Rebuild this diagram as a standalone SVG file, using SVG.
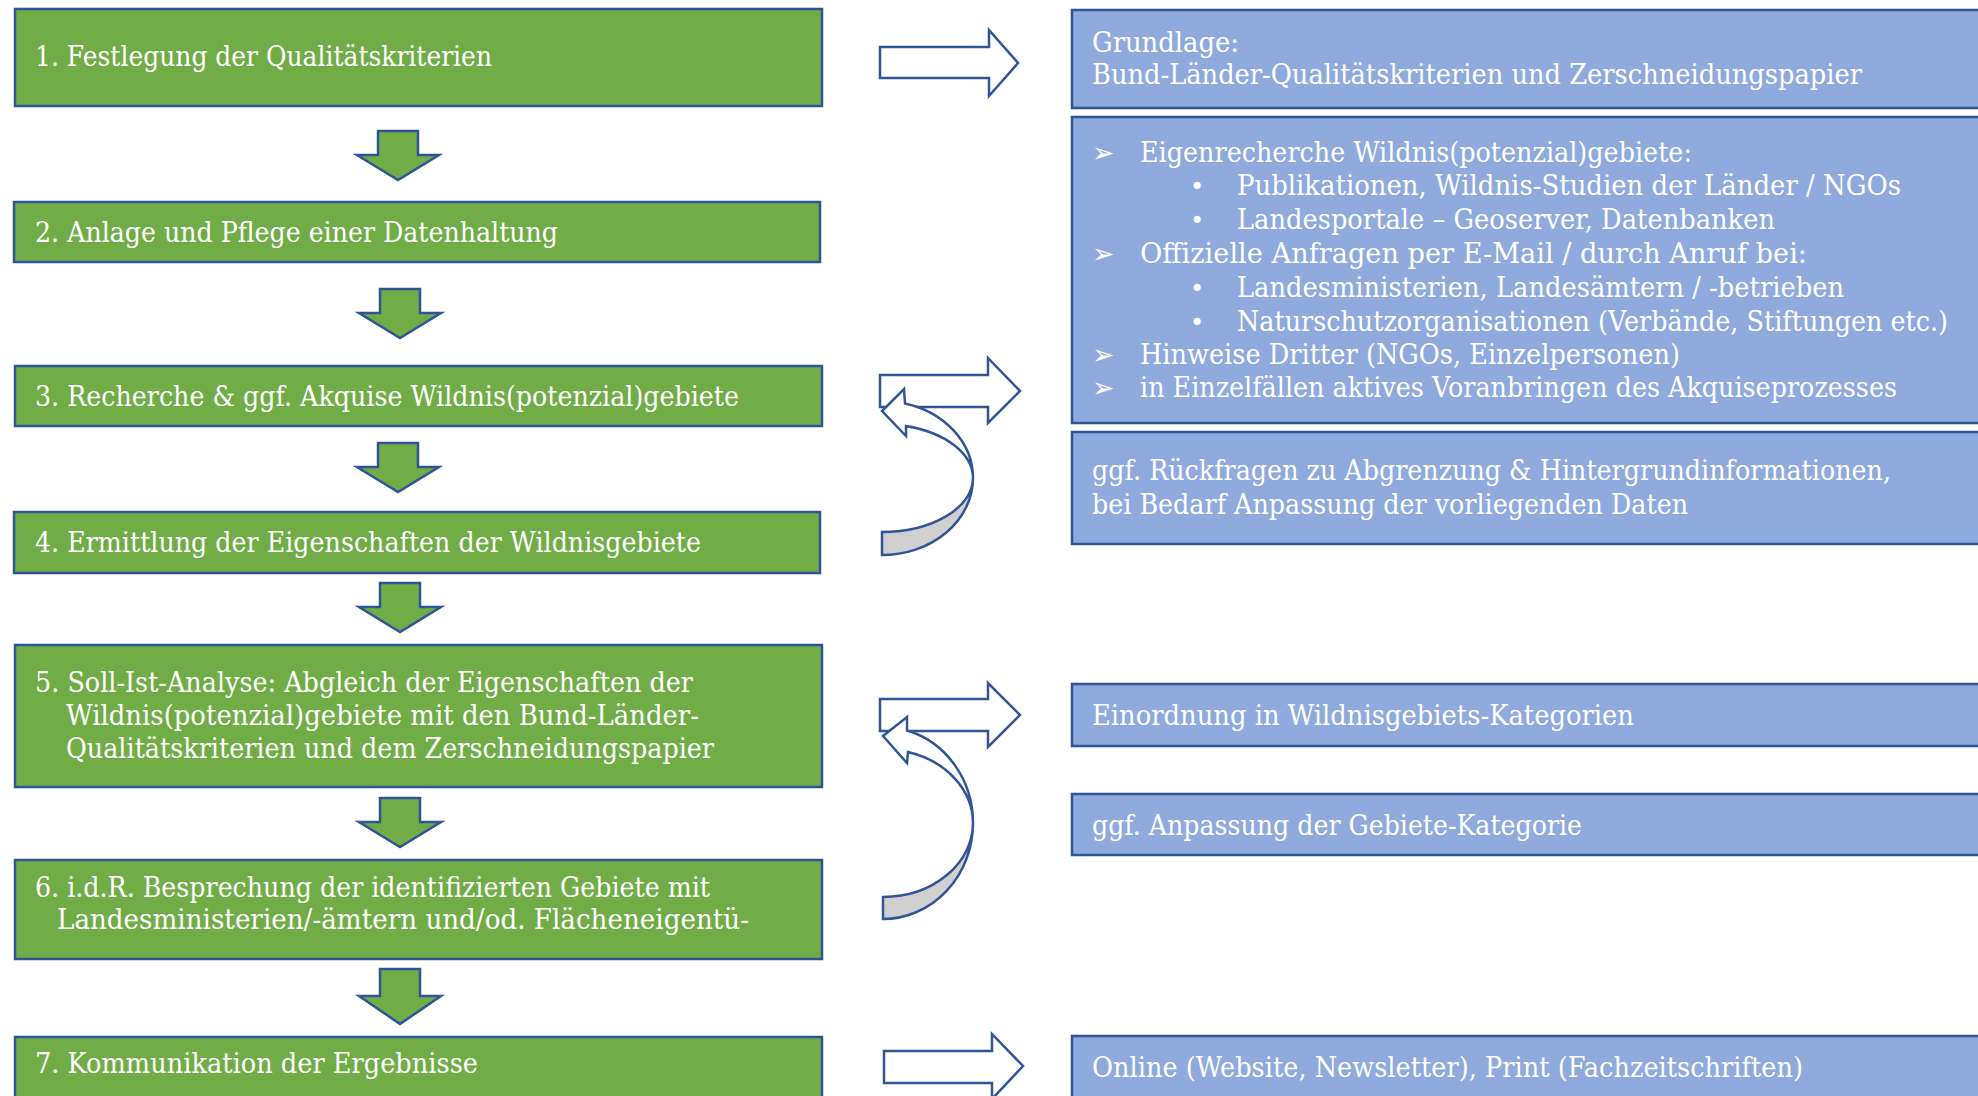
<svg xmlns="http://www.w3.org/2000/svg" width="1978" height="1096" viewBox="0 0 1978 1096">
<style>
.g{fill:#70AD47;stroke:#2F5597;stroke-width:2.5}
.b{fill:#8FAADC;stroke:#2F5597;stroke-width:2.5}
.t{font-family:"DejaVu Serif","Liberation Serif",serif;font-size:27px;fill:#FFFFFF}
.bl{font-family:"DejaVu Sans",sans-serif;font-size:27px;fill:#FFFFFF}
.bd{font-family:"DejaVu Sans",sans-serif;font-size:24px;fill:#FFFFFF}
.da{fill:#70AD47;stroke:#2F5597;stroke-width:2.5;stroke-linejoin:miter}
.ra{fill:#FFFFFF;stroke:#2F5597;stroke-width:2.5;stroke-linejoin:miter}
.cb{fill:#D0D0D0;stroke:#2F5597;stroke-width:2.5}
</style>
<defs>
<path id="down" d="M -20,0 H 20 V 24 H 41 L 0,49 L -41,24 H -20 Z"/>
</defs>

<g id="connectors">
<use href="#down" class="da" x="398" y="131"/>
<use href="#down" class="da" x="400" y="289"/>
<use href="#down" class="da" x="398" y="443"/>
<use href="#down" class="da" x="400" y="583"/>
<use href="#down" class="da" x="400" y="798"/>
<path class="da" d="M 380,969 H 420 V 996 H 441 L 400,1024 L 359,996 H 380 Z"/>
<path class="ra" d="M 880,47 H 989 V 30 L 1018,63 L 989,96 V 78 H 880 Z"/>
<path class="ra" d="M 880,375 H 988 V 358 L 1020,391 L 988,423 V 407 H 880 Z"/>
<path class="ra" d="M 880,699 H 988 V 683 L 1020,715 L 988,747 V 731 H 880 Z"/>
<path class="ra" d="M 884,1051 H 992 V 1034 L 1023,1066 L 992,1099 V 1083 H 884 Z"/>
<path class="cb" d="M 882,532 A 91,54 0 0 0 973,478 A 91,77 0 0 1 882,555 Z"/>
<path class="ra" d="M 906,426 L 906,436 L 882,411 L 904,389 L 905,403.5 A 91,77 0 0 1 973,478 A 91,54 0 0 0 906,426 Z"/>
<path class="cb" d="M 883,897 A 90,74 0 0 0 973,823 A 90,96 0 0 1 883,919 Z"/>
<path class="ra" d="M 908,752 L 907,763 L 883,736 L 907,717 L 907,730.5 A 90,96 0 0 1 973,823 A 90,74 0 0 0 908,752 Z"/>
</g>

<g id="step1">
<rect class="g" x="15" y="9" width="807" height="97"/>
<text class="t" x="35" y="66" textLength="457" lengthAdjust="spacingAndGlyphs">1. Festlegung der Qualitätskriterien</text>
</g>
<g id="step2">
<rect class="g" x="14" y="202" width="806" height="60"/>
<text class="t" x="35" y="242" textLength="523" lengthAdjust="spacingAndGlyphs">2. Anlage und Pflege einer Datenhaltung</text>
</g>
<g id="step3">
<rect class="g" x="15" y="366" width="807" height="60"/>
<text class="t" x="35" y="406" textLength="704" lengthAdjust="spacingAndGlyphs">3. Recherche &amp; ggf. Akquise Wildnis(potenzial)gebiete</text>
</g>
<g id="step4">
<rect class="g" x="14" y="512" width="806" height="61"/>
<text class="t" x="35" y="552" textLength="666" lengthAdjust="spacingAndGlyphs">4. Ermittlung der Eigenschaften der Wildnisgebiete</text>
</g>
<g id="step5">
<rect class="g" x="15" y="645" width="807" height="142"/>
<text class="t" x="35" y="692" textLength="658" lengthAdjust="spacingAndGlyphs">5. Soll-Ist-Analyse: Abgleich der Eigenschaften der</text>
<text class="t" x="66" y="725" textLength="633" lengthAdjust="spacingAndGlyphs">Wildnis(potenzial)gebiete mit den Bund-Länder-</text>
<text class="t" x="66" y="758" textLength="648" lengthAdjust="spacingAndGlyphs">Qualitätskriterien und dem Zerschneidungspapier</text>
</g>
<g id="step6">
<rect class="g" x="15" y="860" width="807" height="99"/>
<text class="t" x="35" y="897" textLength="675" lengthAdjust="spacingAndGlyphs">6. i.d.R. Besprechung der identifizierten Gebiete mit</text>
<text class="t" x="57" y="929" textLength="692" lengthAdjust="spacingAndGlyphs">Landesministerien/-ämtern und/od. Flächeneigentü-</text>
</g>
<g id="step7">
<rect class="g" x="15" y="1037" width="807" height="80"/>
<text class="t" x="35" y="1073" textLength="443" lengthAdjust="spacingAndGlyphs">7. Kommunikation der Ergebnisse</text>
</g>

<g id="info1">
<rect class="b" x="1072" y="10" width="920" height="98"/>
<text class="t" x="1092" y="52" textLength="147" lengthAdjust="spacingAndGlyphs">Grundlage:</text>
<text class="t" x="1092" y="84" textLength="770" lengthAdjust="spacingAndGlyphs">Bund-Länder-Qualitätskriterien und Zerschneidungspapier</text>
</g>
<g id="info3">
<rect class="b" x="1072" y="117" width="920" height="306"/>
<text class="bl" x="1092" y="162">➢</text>
<text class="t" x="1140" y="162" textLength="552" lengthAdjust="spacingAndGlyphs">Eigenrecherche Wildnis(potenzial)gebiete:</text>
<text class="bd" x="1190" y="195">•</text>
<text class="t" x="1237" y="195" textLength="664" lengthAdjust="spacingAndGlyphs">Publikationen, Wildnis-Studien der Länder / NGOs</text>
<text class="bd" x="1190" y="229">•</text>
<text class="t" x="1237" y="229" textLength="538" lengthAdjust="spacingAndGlyphs">Landesportale – Geoserver, Datenbanken</text>
<text class="bl" x="1092" y="263">➢</text>
<text class="t" x="1140" y="263" textLength="667" lengthAdjust="spacingAndGlyphs">Offizielle Anfragen per E-Mail / durch Anruf bei:</text>
<text class="bd" x="1190" y="297">•</text>
<text class="t" x="1237" y="297" textLength="607" lengthAdjust="spacingAndGlyphs">Landesministerien, Landesämtern / -betrieben</text>
<text class="bd" x="1190" y="331">•</text>
<text class="t" x="1237" y="331" textLength="711" lengthAdjust="spacingAndGlyphs">Naturschutzorganisationen (Verbände, Stiftungen etc.)</text>
<text class="bl" x="1092" y="364">➢</text>
<text class="t" x="1140" y="364" textLength="540" lengthAdjust="spacingAndGlyphs">Hinweise Dritter (NGOs, Einzelpersonen)</text>
<text class="bl" x="1092" y="397">➢</text>
<text class="t" x="1140" y="397" textLength="757" lengthAdjust="spacingAndGlyphs">in Einzelfällen aktives Voranbringen des Akquiseprozesses</text>
</g>
<g id="info4">
<rect class="b" x="1072" y="432" width="920" height="112"/>
<text class="t" x="1092" y="480" textLength="799" lengthAdjust="spacingAndGlyphs">ggf. Rückfragen zu Abgrenzung &amp; Hintergrundinformationen,</text>
<text class="t" x="1092" y="514" textLength="596" lengthAdjust="spacingAndGlyphs">bei Bedarf Anpassung der vorliegenden Daten</text>
</g>
<g id="info5a">
<rect class="b" x="1072" y="684" width="920" height="62"/>
<text class="t" x="1092" y="725" textLength="542" lengthAdjust="spacingAndGlyphs">Einordnung in Wildnisgebiets-Kategorien</text>
</g>
<g id="info5b">
<rect class="b" x="1072" y="794" width="920" height="61"/>
<text class="t" x="1092" y="835" textLength="490" lengthAdjust="spacingAndGlyphs">ggf. Anpassung der Gebiete-Kategorie</text>
</g>
<g id="info7">
<rect class="b" x="1072" y="1036" width="920" height="80"/>
<text class="t" x="1092" y="1077" textLength="711" lengthAdjust="spacingAndGlyphs">Online (Website, Newsletter), Print (Fachzeitschriften)</text>
</g>
</svg>
